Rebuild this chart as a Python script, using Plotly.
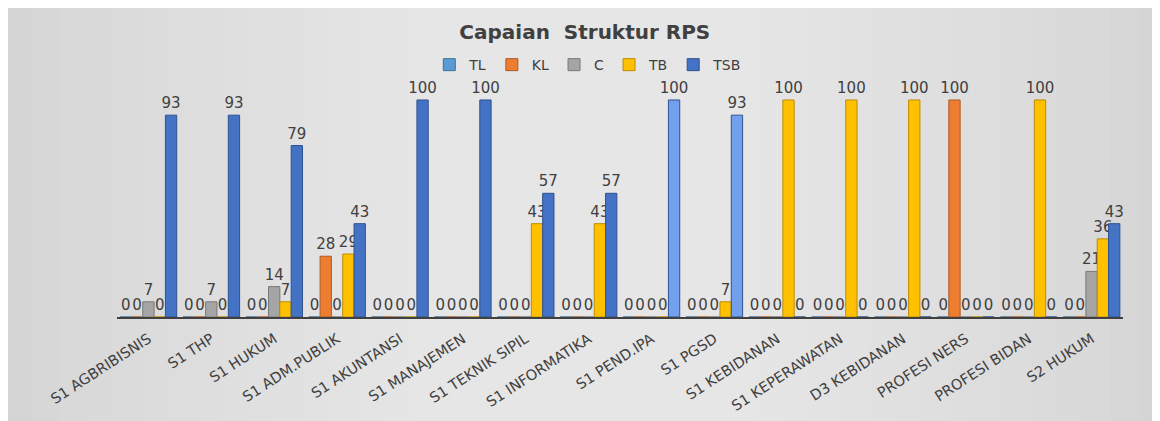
import plotly.graph_objects as go

categories = [
    "S1 AGBRIBISNIS", "S1 THP", "S1 HUKUM", "S1 ADM.PUBLIK", "S1 AKUNTANSI",
    "S1 MANAJEMEN", "S1 TEKNIK SIPIL", "S1 INFORMATIKA", "S1 PEND.IPA", "S1 PGSD",
    "S1 KEBIDANAN", "S1 KEPERAWATAN", "D3 KEBIDANAN", "PROFESI NERS",
    "PROFESI BIDAN", "S2 HUKUM",
]
tl = [0, 0, 0, 0, 0, 0, 0, 0, 0, 0, 0, 0, 0, 0, 0, 0]
kl = [0, 0, 0, 28, 0, 0, 0, 0, 0, 0, 0, 0, 0, 100, 0, 0]
c = [7, 7, 14, 0, 0, 0, 0, 0, 0, 0, 0, 0, 0, 0, 0, 21]
tb = [0, 0, 7, 29, 0, 0, 43, 43, 0, 7, 100, 100, 100, 0, 100, 36]
tsb = [93, 93, 79, 43, 100, 100, 57, 57, 100, 93, 0, 0, 0, 0, 0, 43]

FONT = "DejaVu Sans"
series = [
    ("TL", tl, "#5B9BD5", "#41719C"),
    ("KL", kl, "#ED7D31", "#AE5A21"),
    ("C", c, "#A5A5A5", "#787878"),
    ("TB", tb, "#FFC000", "#BC8C00"),
    ("TSB", tsb, "#4472C4", "#2F528F"),
]

fig = go.Figure()
for name, vals, clr, edge in series:
    colors = clr
    if name == "TSB":
        # the two bars drawn lighter in the original
        colors = ["#72A0EC" if cat in ("S1 PEND.IPA", "S1 PGSD") else clr for cat in categories]
    fig.add_trace(
        go.Bar(
            name=name,
            x=categories,
            y=vals,
            text=vals,
            textposition="outside",
            constraintext="none",
            cliponaxis=False,
            textfont=dict(family=FONT, size=15, color="#404040"),
            marker=dict(color=colors, line=dict(color=edge, width=1)),
        )
    )

# soft grey background, lighter towards the middle
x0, x1 = -0.1083, 1.0447
y0, y1 = -0.4828, 1.3319
shapes = []
steps = 16
mid = 0.465
for i in range(steps):
    half = (x1 - x0) / 2 * (1 - i / steps * 0.75)
    shapes.append(
        dict(type="rect", xref="paper", yref="paper",
             x0=max(x0, mid - half), x1=min(x1, mid + half), y0=y0, y1=y1,
             fillcolor="rgba(255,255,255,0.05)", line=dict(width=0), layer="below")
    )

fig.update_layout(
    width=1160,
    height=421,
    margin=dict(l=109, r=45, t=77, b=112),
    paper_bgcolor="#D3D3D3",
    plot_bgcolor="rgba(0,0,0,0)",
    font=dict(family=FONT, color="#404040"),
    title=dict(
        text="<b>Capaian  Struktur RPS</b>",
        x=0.465, xref="paper", xanchor="center",
        y=0.943, yanchor="middle",
        font=dict(family=FONT, size=20, color="#404040"),
    ),
    barmode="group",
    bargap=0.1,
    bargroupgap=0,
    legend=dict(
        orientation="h",
        x=0.468, xanchor="center",
        y=1.086, yanchor="middle",
        font=dict(family=FONT, size=14, color="#404040"),
        itemwidth=30,
        bgcolor="rgba(0,0,0,0)",
    ),
    xaxis=dict(
        tickangle=-33,
        tickfont=dict(family=FONT, size=14.5, color="#404040"),
        ticklabelstandoff=6,
        showline=True, linecolor="#404040", linewidth=2,
        showgrid=False, ticks="",
    ),
    yaxis=dict(range=[0, 106.9], visible=False, showgrid=False),
    shapes=shapes,
)

fig.write_html("out.html")
